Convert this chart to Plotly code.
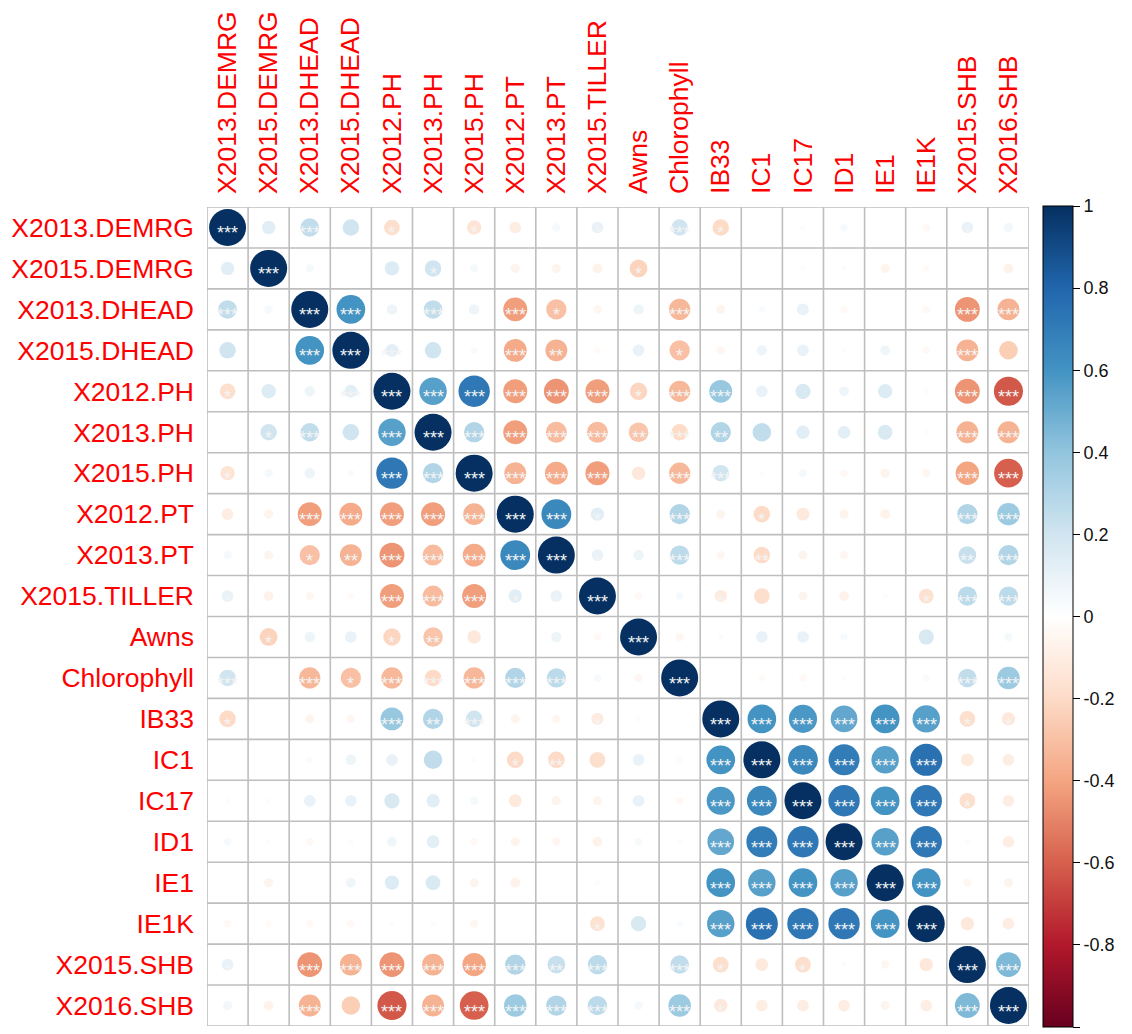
import numpy as np
import plotly.graph_objects as go

labels = ["X2013.DEMRG", "X2015.DEMRG", "X2013.DHEAD", "X2015.DHEAD", "X2012.PH",
          "X2013.PH", "X2015.PH", "X2012.PT", "X2013.PT", "X2015.TILLER",
          "Awns", "Chlorophyll", "IB33", "IC1", "IC17", "ID1", "IE1", "IE1K",
          "X2015.SHB", "X2016.SHB"]

# Upper triangle of the correlation matrix: row i holds r(i, j) for j = i+1 .. n-1
r_upper = [
    [0.13, 0.25, 0.20, -0.18, 0.00, -0.15, -0.10, 0.05, 0.10, 0.01, 0.20, -0.20, 0.00, 0.02, 0.04, 0.00, -0.04, 0.10, 0.06],
    [0.05, 0.00, 0.15, 0.20, 0.05, -0.06, -0.06, -0.07, -0.23, 0.01, 0.01, 0.01, 0.02, 0.02, -0.06, -0.03, 0.01, -0.07],
    [0.60, 0.08, 0.25, 0.08, -0.42, -0.30, -0.05, 0.08, -0.33, -0.06, 0.03, 0.10, -0.04, 0.00, -0.04, -0.45, -0.35],
    [0.12, 0.20, 0.03, -0.38, -0.35, -0.03, 0.10, -0.30, -0.05, 0.08, 0.10, 0.02, 0.07, -0.04, -0.35, -0.25],
    [0.55, 0.72, -0.42, -0.45, -0.42, -0.22, -0.33, 0.38, 0.10, 0.17, 0.07, 0.15, 0.02, -0.45, -0.62],
    [0.30, -0.42, -0.32, -0.32, -0.28, -0.20, 0.30, 0.25, 0.13, 0.12, 0.16, 0.02, -0.35, -0.35],
    [-0.35, -0.38, -0.42, -0.13, -0.33, 0.20, 0.02, 0.05, -0.04, -0.06, -0.05, -0.40, -0.60],
    [0.65, 0.13, 0.01, 0.30, -0.06, -0.20, -0.12, -0.06, -0.07, 0.00, 0.30, 0.37],
    [0.10, 0.08, 0.27, -0.05, -0.20, -0.06, -0.05, 0.00, 0.00, 0.23, 0.30],
    [-0.04, 0.04, -0.11, -0.18, -0.06, -0.07, 0.02, -0.16, 0.27, 0.27],
    [-0.05, 0.02, 0.10, 0.10, 0.04, 0.00, 0.17, 0.01, 0.05],
    [0.01, -0.03, -0.04, -0.02, 0.00, 0.03, 0.25, 0.37],
    [0.60, 0.58, 0.52, 0.60, 0.55, -0.18, -0.13],
    [0.65, 0.70, 0.55, 0.75, -0.12, -0.10],
    [0.72, 0.60, 0.72, -0.18, -0.10],
    [0.55, 0.72, -0.02, -0.10],
    [0.60, -0.05, -0.06],
    [-0.13, -0.10],
    [0.45],
]

# Significance level (number of stars) for the same upper-triangle cells
sig_upper = [
    [0, 3, 0, 1, 0, 1, 0, 0, 1, 0, 3, 1, 0, 0, 0, 0, 0, 1, 0],
    [0, 0, 0, 1, 0, 0, 0, 0, 1, 0, 0, 0, 0, 0, 0, 0, 0, 0],
    [3, 0, 3, 0, 3, 1, 0, 0, 3, 0, 0, 0, 0, 0, 0, 3, 3],
    [3, 0, 0, 3, 2, 0, 0, 1, 0, 0, 0, 0, 0, 0, 3, 0],
    [3, 3, 3, 3, 3, 1, 3, 3, 0, 0, 0, 0, 0, 3, 3],
    [3, 3, 3, 3, 2, 3, 2, 0, 0, 0, 0, 0, 3, 3],
    [3, 3, 3, 0, 3, 3, 0, 0, 0, 0, 0, 3, 3],
    [3, 1, 0, 3, 0, 1, 0, 0, 0, 0, 3, 3],
    [1, 0, 3, 0, 2, 0, 0, 0, 0, 2, 3],
    [0, 0, 1, 0, 0, 0, 0, 1, 3, 3],
    [0, 0, 0, 0, 0, 0, 0, 0, 0],
    [0, 0, 0, 0, 0, 0, 3, 3],
    [3, 3, 3, 3, 3, 1, 1],
    [3, 3, 3, 3, 0, 0],
    [3, 3, 3, 1, 0],
    [3, 3, 0, 0],
    [3, 0, 0],
    [0, 0],
    [3],
]

colorbar_ticks = [1, 0.8, 0.6, 0.4, 0.2, 0, -0.2, -0.4, -0.6, -0.8, -1]
rdbu = ["#67001F", "#B2182B", "#D6604D", "#F4A582", "#FDDBC7", "#FFFFFF",
        "#D1E5F0", "#92C5DE", "#4393C3", "#2166AC", "#053061"]

n = len(labels)
R = np.eye(n)
S = np.full((n, n), 3, dtype=int)
for i, row in enumerate(r_upper):
    for k, v in enumerate(row):
        j = i + 1 + k
        R[i, j] = R[j, i] = v
        S[i, j] = S[j, i] = sig_upper[i][k]

W, H = 1132, 1034
ml, mt = 207, 207
plot_w, plot_h = 822, 819
mr, mb = W - ml - plot_w, H - mt - plot_h
cell = plot_w / n

colorscale = [[k / (len(rdbu) - 1), c] for k, c in enumerate(rdbu)]

xs, ys, vals, sizes = [], [], [], []
for i in range(n):
    for j in range(n):
        v = R[i, j]
        xs.append(j)
        ys.append(i)
        vals.append(v)
        sizes.append(0.9 * np.sqrt(abs(v)) * cell)

fig = go.Figure()
fig.add_trace(go.Scatter(
    x=xs, y=ys, mode="markers",
    marker=dict(size=sizes, sizemode="diameter", color=vals, cmin=-1, cmax=1,
                opacity=1, colorscale=colorscale, line=dict(width=0),
                showscale=True,
                colorbar=dict(
                    x=1 + (1043 - (ml + plot_w)) / plot_w, xanchor="left",
                    y=0.5, yanchor="middle", len=1.003, lenmode="fraction",
                    thickness=30, ypad=0, xpad=0,
                    outlinecolor="black", outlinewidth=1,
                    tickvals=colorbar_ticks,
                    ticktext=[f"{t:g}" for t in colorbar_ticks],
                    ticks="outside", ticklen=7, tickcolor="black",
                    tickfont=dict(family="Liberation Sans, Arial", size=18, color="#111111"),
                )),
    hoverinfo="skip", showlegend=False,
))

annotations = []
for i in range(n):
    for j in range(n):
        s = S[i, j]
        if s > 0:
            annotations.append(dict(
                x=j, y=i, xref="x", yref="y", text="*" * int(s), showarrow=False,
                font=dict(family="Liberation Sans, Arial", size=18, color="#F4F4F4"),
                yshift=-6,
            ))

shapes = []
for k in range(n + 1):
    shapes.append(dict(type="line", xref="x", yref="y", x0=k - 0.5, x1=k - 0.5,
                       y0=-0.5, y1=n - 0.5, line=dict(color="#BEBEBE", width=1.6),
                       layer="below"))
    shapes.append(dict(type="line", xref="x", yref="y", y0=k - 0.5, y1=k - 0.5,
                       x0=-0.5, x1=n - 0.5, line=dict(color="#BEBEBE", width=1.6),
                       layer="below"))

tickfont = dict(family="Liberation Sans, Arial", size=26.5, color="#FF0000")
fig.update_layout(
    width=W, height=H,
    margin=dict(l=ml, r=mr, t=mt, b=mb, pad=0, autoexpand=False),
    paper_bgcolor="white", plot_bgcolor="white",
    shapes=shapes, annotations=annotations,
    xaxis=dict(range=[-0.5, n - 0.5], side="top", tickvals=list(range(n)),
               ticktext=labels, tickangle=-90, tickfont=tickfont,
               showgrid=False, zeroline=False, showline=False,
               ticks="", ticklabelstandoff=12, fixedrange=True),
    yaxis=dict(range=[n - 0.5, -0.5], tickvals=list(range(n)), ticktext=labels,
               tickfont=tickfont, showgrid=False, zeroline=False, showline=False,
               ticks="", ticklabelstandoff=12, fixedrange=True),
)

fig.write_html("out.html", config={"displayModeBar": False},
               post_script="document.body.style.margin='0';document.body.style.overflow='hidden';")
